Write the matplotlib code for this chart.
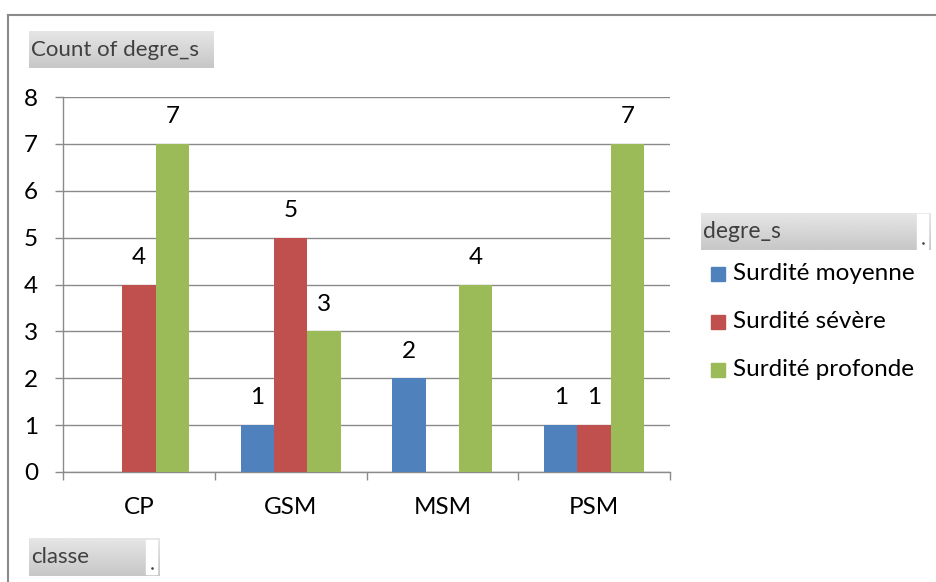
import matplotlib
matplotlib.use("Agg")
import matplotlib.pyplot as plt
import numpy as np
from matplotlib.lines import Line2D
from matplotlib.patches import Rectangle

categories = ["CP", "GSM", "MSM", "PSM"]
series_names = ["Surdité moyenne", "Surdité sévère", "Surdité profonde"]
moyenne = [0, 1, 2, 1]
severe = [4, 5, 0, 1]
profonde = [7, 3, 4, 7]
yticks = [0, 1, 2, 3, 4, 5, 6, 7, 8]
colors = ["#4F81BD", "#C0504D", "#9BBB59"]

W, H = 936, 582
plt.rcParams['font.family'] = ['Lato', 'DejaVu Sans']
fig = plt.figure(figsize=(W / 100, H / 100), dpi=100)

def fx(x):
    return x / W

def fy(y):
    return 1 - y / H

# outer border (top and left)
fig.add_artist(Line2D([fx(8), fx(936)], [fy(15), fy(15)], color="#8a8a8a", lw=1.5))
fig.add_artist(Line2D([fx(8), fx(8)], [fy(15), fy(582)], color="#8a8a8a", lw=1.5))

ax = fig.add_axes([fx(63), fy(472), (670 - 63) / W, (472 - 97) / H])
x = np.arange(len(categories))
bw = 0.22
FS = 17.5
all_series = [moyenne, severe, profonde]
for i, (vals, c, name) in enumerate(zip(all_series, colors, series_names)):
    pos = x + (i - 1) * bw
    v = np.array(vals, dtype=float)
    ax.bar(pos, v, width=bw, color=c, label=name, zorder=3)
    for p, val in zip(pos, vals):
        if val > 0:
            ax.text(p, val + 0.58, str(val), ha="center", va="center", fontsize=FS, color="black", zorder=4)

ax.set_xlim(-0.5, 3.5)
ax.set_ylim(0, 8)
ax.set_yticks(yticks)
ax.set_yticklabels([str(t) for t in yticks], fontsize=FS)
ax.yaxis.grid(True, color="#8a8a8a", lw=1.0, zorder=0)
ax.set_axisbelow(True)
ax.tick_params(axis="y", length=6, width=1.0, color="#8a8a8a", pad=12, labelsize=FS)
ax.set_xticks(x)
ax.set_xticklabels(categories, fontsize=FS)
ax.tick_params(axis="x", which="major", length=0, pad=18)
ax.set_xticks([-0.5, 0.5, 1.5, 2.5, 3.5], minor=True)
ax.tick_params(axis="x", which="minor", length=6, width=1.0, color="#8a8a8a")
for s in ["top", "right"]:
    ax.spines[s].set_visible(False)
for s in ["left", "bottom"]:
    ax.spines[s].set_color("#8a8a8a")
    ax.spines[s].set_linewidth(1.0)

def button(x0, y0, x1, y1, label, dropdown=False, fs=13):
    bax = fig.add_axes([fx(x0), fy(y1), (x1 - x0) / W, (y1 - y0) / H])
    grad = np.linspace(0.90, 0.78, 50).reshape(-1, 1)
    bax.imshow(grad, cmap="gray", vmin=0, vmax=1, aspect="auto", extent=[0, 1, 0, 1])
    bax.set_xlim(0, 1)
    bax.set_ylim(0, 1)
    bax.axis("off")
    bax.text(2 / (x1 - x0), 0.5, label, ha="left", va="center", fontsize=fs, color="#404040")
    if dropdown:
        wx0 = (x1 - x0 - 14) / (x1 - x0)
        wx1 = (x1 - x0 - 3) / (x1 - x0)
        bax.add_patch(Rectangle((wx0, 0.04), wx1 - wx0, 0.92, color="white"))
        bax.plot([(wx0 + wx1) / 2], [0.2], marker="s", ms=0.8, color="#404040")

button(29, 31, 214, 68, "Count of degre_s", fs=16)
button(701, 213, 931, 250, "degre_s", dropdown=True, fs=16.5)
button(29, 538, 160, 576, "classe", dropdown=True, fs=16)

# legend
leg_rows = [274, 322, 370]
for name, c, yr in zip(series_names, colors, leg_rows):
    fig.add_artist(Rectangle((fx(711), fy(yr + 7)), 14 / W, 14 / H, color=c, transform=fig.transFigure))
    fig.text(fx(733), fy(yr), name, ha="left", va="center", fontsize=FS, color="black")

fig.savefig("out.png", dpi=100)
